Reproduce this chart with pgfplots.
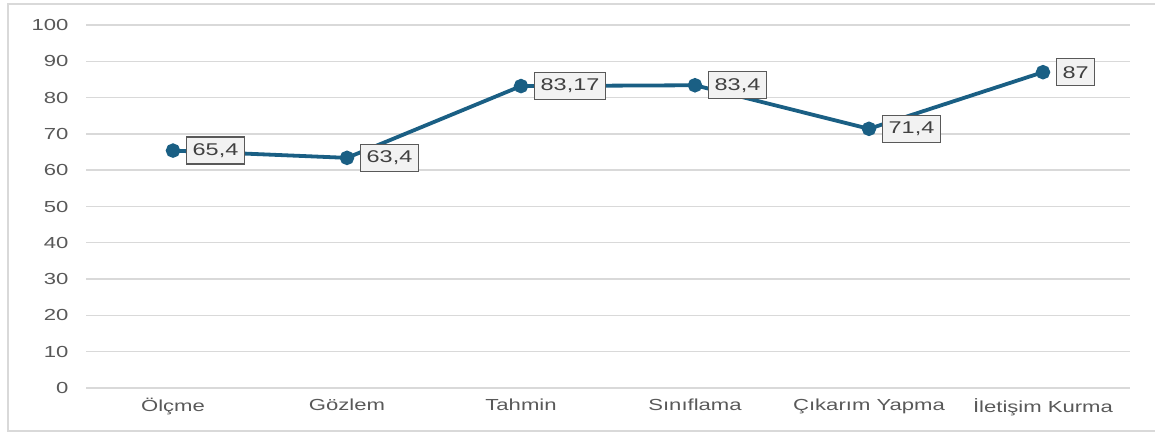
\documentclass[border=0pt]{standalone}
\usepackage{pgfplots}
\pgfplotsset{compat=1.18}
\usepackage{fontspec}
\setmainfont{Liberation Sans}[FakeStretch=1.38]

\definecolor{lineblue}{HTML}{1A5F84}
\definecolor{gridgray}{HTML}{D9D9D9}
\definecolor{ticktext}{HTML}{595959}
\definecolor{boxborder}{HTML}{595959}
\definecolor{boxfill}{HTML}{F2F2F2}
\definecolor{boxtext}{HTML}{404040}

\begin{document}
\begin{tikzpicture}[x=1pt,y=1pt]
  \useasboundingbox (0,0) rectangle (1155,433);
  % outer chart frame (open on the right)
  \draw[gridgray, line width=2pt] (1155,2) -- (8,2) -- (8,429) -- (1155,429);

  \begin{axis}[
    at={(86pt,45pt)}, anchor=south west,
    scale only axis,
    width=1044pt, height=363pt,
    xmin=-0.5, xmax=5.5,
    ymin=0, ymax=100,
    ytick={0,10,...,100},
    xtick={0,1,2,3,4,5},
    xticklabels={Ölçme, Gözlem, Tahmin, Sınıflama, Çıkarım Yapma, İletişim Kurma},
    axis line style={draw=none},
    major tick length=0pt,
    ymajorgrids,
    major grid style={gridgray, line width=1.4pt},
    /pgf/number format/assume math mode=true,
    tick label style={font=\fontsize{16}{19}\selectfont, text=ticktext},
    yticklabel style={xshift=-14pt},
    xticklabel style={yshift=-7pt},
    clip=false,
  ]
    \addplot[
      color=lineblue, line width=3.8pt,
      mark=*, mark size=5.3pt,
      mark options={fill=lineblue, draw=none},
      point meta=explicit symbolic,
      nodes near coords,
      every node near coord/.style={
        anchor=west, xshift=13pt,
        draw=boxborder, line width=1.4pt, fill=boxfill,
        text=boxtext, font=\fontsize{17}{20}\selectfont,
        inner xsep=6pt, inner ysep=0pt,
        minimum height=27pt,
      },
    ] coordinates {
      (0,65.4)  [65,4]
      (1,63.4)  [63,4]
      (2,83.17) [83,17]
      (3,83.4)  [83,4]
      (4,71.4)  [71,4]
      (5,87)    [87]
    };
  \end{axis}
\end{tikzpicture}
\end{document}
